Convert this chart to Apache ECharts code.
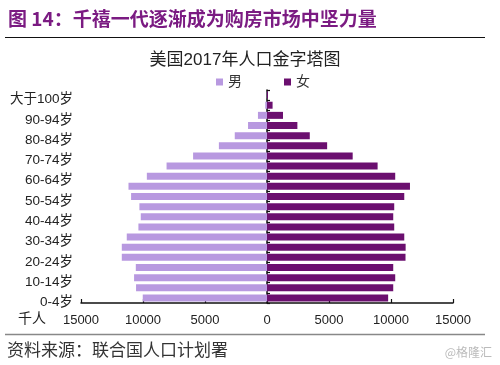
<!DOCTYPE html>
<html>
<head>
<meta charset="utf-8">
<script src="https://cdn.jsdelivr.net/npm/echarts@6/dist/echarts.min.js"></script>
<style>html,body{margin:0;padding:0;background:#fff;}#c{width:500px;height:365px;}</style>
</head>
<body>
<div id="c"></div>
<script>
var categories = ['0-4岁','5-9岁','10-14岁','15-19岁','20-24岁','25-29岁','30-34岁','35-39岁','40-44岁','45-49岁','50-54岁','55-59岁','60-64岁','65-69岁','70-74岁','75-79岁','80-84岁','85-89岁','90-94岁','95-99岁','大于100岁'];
var male = [10020, 10560, 10720, 10580, 11710, 11710, 11310, 10370, 10180, 10290, 10960, 11170, 9690, 8100, 5960, 3880, 2600, 1530, 730, 140, 20];
var female = [9770, 10180, 10340, 10180, 11170, 11180, 11070, 10260, 10180, 10260, 11070, 11530, 10340, 8920, 6910, 4850, 3450, 2450, 1290, 450, 80];
var seriesNames = ['男', '女'];
var xTicks = {min: -15000, max: 15000, interval: 5000};

var FONT = '"Liberation Sans", "Noto Sans CJK SC", sans-serif';
var chart = echarts.init(document.getElementById('c'), null, {renderer: 'canvas'});
chart.setOption({
  backgroundColor: '#fff',
  animation: false,
  textStyle: {fontFamily: FONT},
  grid: [
    {left: 81, right: 47, top: 90, bottom: 62, containLabel: false},
    {left: 81, right: 47, top: 94.5, bottom: 57.5, containLabel: false}
  ],
  legend: {
    data: seriesNames,
    left: 211, top: 70,
    itemWidth: 7, itemHeight: 7, itemGap: 42,
    icon: 'rect',
    textStyle: {fontSize: 14, color: '#333', fontFamily: FONT}
  },
  xAxis: [{
    type: 'value',
    gridIndex: 0,
    min: xTicks.min, max: xTicks.max, interval: xTicks.interval,
    axisLine: {show: true, lineStyle: {color: '#111', width: 1.5}},
    axisTick: {show: true, inside: true, length: 4, lineStyle: {color: '#111', width: 1.2}},
    splitLine: {show: false},
    axisLabel: {fontSize: 13, color: '#222', margin: 11, formatter: function (v) { return String(Math.abs(v)); }}
  }, {
    type: 'value',
    gridIndex: 1,
    min: xTicks.min, max: xTicks.max, interval: xTicks.interval,
    show: false
  }],
  yAxis: [{
    type: 'category',
    gridIndex: 0,
    data: categories,
    position: 'left',
    axisLine: {show: true, onZero: true, lineStyle: {color: '#111', width: 1.5}},
    axisTick: {show: true, inside: true, length: 3, interval: 0, lineStyle: {color: '#111', width: 1.2}},
    axisLabel: {show: false}
  }, {
    type: 'category',
    gridIndex: 1,
    data: categories,
    position: 'left',
    axisLine: {show: false, onZero: false},
    axisTick: {show: false},
    splitLine: {show: false},
    axisLabel: {interval: 1, hideOverlap: false, fontSize: 13.5, color: '#222', margin: 8}
  }],
  series: [{
    name: seriesNames[0],
    type: 'bar',
    xAxisIndex: 0,
    yAxisIndex: 0,
    data: male.map(function (v) { return -v; }),
    barWidth: 7,
    barGap: '-100%',
    itemStyle: {color: '#b899e0'}
  }, {
    name: seriesNames[1],
    type: 'bar',
    xAxisIndex: 0,
    yAxisIndex: 0,
    data: female,
    barWidth: 7,
    barGap: '-100%',
    itemStyle: {color: '#6b0f6f'}
  }],
  graphic: [
    {type: 'text', left: 8, top: 9, style: {text: '图 14：千禧一代逐渐成为购房市场中坚力量', font: 'bold 19px "Noto Sans CJK SC", sans-serif', fill: '#7b1b82'}},
    {type: 'line', shape: {x1: 5, y1: 37.5, x2: 485, y2: 37.5}, style: {stroke: '#111', lineWidth: 1.2}},
    {type: 'text', x: 245, y: 60, style: {text: '美国2017年人口金字塔图', font: '17px "Liberation Sans", "Noto Sans CJK SC", sans-serif', fill: '#222', textAlign: 'center', textVerticalAlign: 'middle'}},
    {type: 'text', x: 18, y: 318, style: {text: '千人', font: '14px "Noto Sans CJK SC", sans-serif', fill: '#222', textVerticalAlign: 'middle'}},
    {type: 'line', shape: {x1: 5, y1: 334.5, x2: 485, y2: 334.5}, style: {stroke: '#888', lineWidth: 1.5}},
    {type: 'text', x: 7, y: 350, style: {text: '资料来源：联合国人口计划署', font: '17px "Noto Sans CJK SC", sans-serif', fill: '#333', textVerticalAlign: 'middle'}},
    {type: 'text', x: 492, y: 352, style: {text: '@格隆汇', font: '12px "Noto Sans CJK SC", sans-serif', fill: '#bbb', textAlign: 'right', textVerticalAlign: 'middle'}}
  ]
});
</script>
</body>
</html>
